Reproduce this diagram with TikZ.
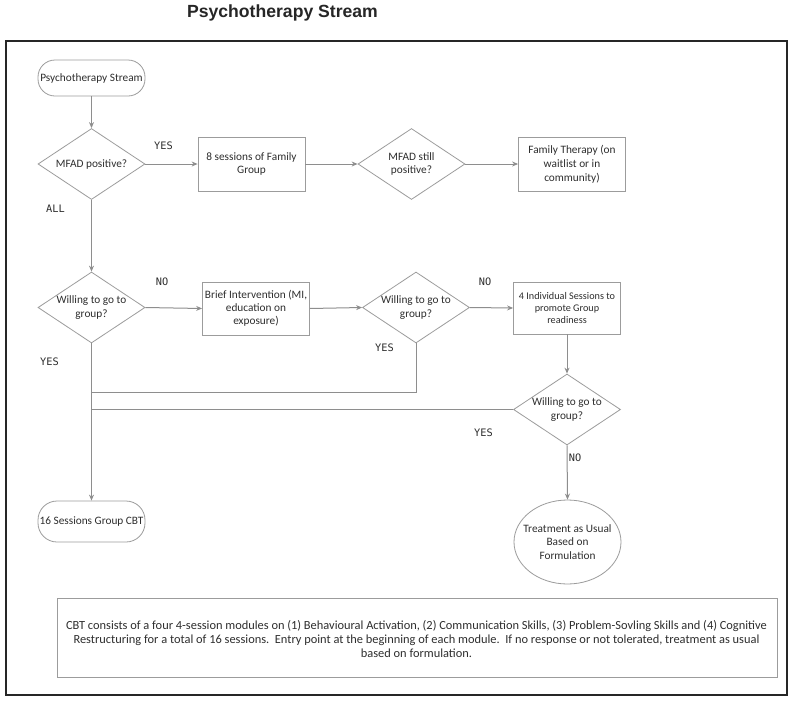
\documentclass[tikz,border=0pt]{standalone}
\usepackage{fontspec}
\setmainfont{Carlito}
\newfontfamily\titlefont{Liberation Sans}
\newfontfamily\lblfont{DejaVu Sans Mono}
\usetikzlibrary{shapes.geometric,arrows.meta}
\definecolor{txt}{HTML}{2E2E2E}
\definecolor{edge}{HTML}{8E8E8E}
\definecolor{bord}{HTML}{9C9C9C}
\begin{document}
\begin{tikzpicture}[x=1pt,y=-1pt,
  every node/.style={text=txt},
  nfont/.style={font=\fontsize{11.3}{13.8}\selectfont},
  term/.style={draw=bord,line width=0.8pt,rectangle,rounded corners=17pt,minimum width=107pt,inner sep=0pt,nfont,align=center},
  procbox/.style={draw=bord,line width=0.8pt,rectangle,minimum width=107pt,minimum height=54pt,inner sep=0pt,nfont,align=center},
  dia/.style={draw=bord,line width=0.8pt,diamond,minimum width=107pt,minimum height=71pt,inner sep=0pt},
  dtext/.style={nfont,align=center,inner sep=0pt,text=txt},
  lbl/.style={font=\lblfont\fontsize{10.3}{12}\selectfont,inner sep=0pt},
  arr/.style={draw=edge,line width=1pt,-{Stealth[length=6pt,width=5pt]}},
  ln/.style={draw=edge,line width=1pt}
]
\useasboundingbox (0,0) rectangle (796,702);
\fill[white] (0,0) rectangle (796,702);
\node[font=\titlefont\bfseries\fontsize{17.6}{20}\selectfont,text=black!85] (title) at (282.5,13) {Psychotherapy Stream};
\draw[line width=2.5pt,draw=black!85] (6,41) rectangle (787,695);

% row 1
\node[term,minimum height=36pt] (ps) at (91.5,78) {Psychotherapy Stream};
\node[dia,label={[dtext]center:MFAD positive?}] (d1) at (91.5,164) {};
\node[procbox] (b1) at (251.5,164) {8 sessions of Family\\Group};
\node[dia,label={[dtext]center:MFAD still\\positive?}] (d2) at (411.5,164) {};
\node[procbox] (ft) at (572,164) {Family Therapy (on\\waitlist or in\\community)};

% row 2
\node[dia,label={[dtext]center:Willing to go to\\group?}] (d3) at (91.5,307.5) {};
\node[procbox,minimum height=53pt,font=\fontsize{11.3}{12.8}\selectfont] (bi) at (256,308.5) {Brief Intervention (MI,\\education on\\exposure)};
\node[dia,label={[dtext]center:Willing to go to\\group?}] (d4) at (416,307.5) {};
\node[procbox,minimum height=52pt,font=\fontsize{10.2}{12}\selectfont] (is) at (567,308) {4 Individual Sessions to\\promote Group\\readiness};
\node[dia,label={[dtext]center:Willing to go to\\group?}] (d5) at (567,409.5) {};

% row 3
\node[term,minimum height=41pt,rounded corners=19pt] (cbt) at (91.5,521.5) {16 Sessions Group CBT};
\node[draw=bord,line width=0.8pt,ellipse,minimum width=107pt,minimum height=84pt,inner sep=0pt,
  label={[dtext]center:Treatment as Usual\\Based on\\Formulation}] (tau) at (567.5,542) {};

% note
\node[draw=bord,line width=0.8pt,minimum width=720pt,minimum height=79pt,inner sep=0pt] (note) at (417,637.5) {};
\node[font=\fontsize{12.4}{14}\selectfont,align=center,inner sep=0pt] (notetext) at (416.5,639) {CBT consists of a four 4-session modules on (1) Behavioural Activation, (2) Communication Skills, (3) Problem-Sovling Skills and (4) Cognitive\\Restructuring for a total of 16 sessions.\ \ Entry point at the beginning of each module.\ \ If no response or not tolerated, treatment as usual\\based on formulation.};

% junction coordinates
\coordinate (j1) at (91.5,392);
\coordinate (j2) at (91.5,409.5);

% connectors
\draw[arr] (ps.south) -- (d1.north);
\draw[arr] (d1.east) -- (b1.west);
\draw[arr] (b1.east) -- (d2.west);
\draw[arr] (d2.east) -- (ft.west);
\draw[arr] (d1.south) -- (d3.north);
\draw[arr] (d3.east) -- (bi.west);
\draw[arr] (bi.east) -- (d4.west);
\draw[arr] (d4.east) -- (is.west);
\draw[arr] (is.south) -- (d5.north);
\draw[arr] (d3.south) -- (cbt.north);
\draw[arr] (d5.south) -- (tau.north);
\draw[ln] (d4.south) |- (j1);
\draw[ln] (d5.west) -- (j2);

% labels
\node[lbl] (yes1) at (163.5,146) {YES};
\node[lbl] (all) at (55.5,209) {ALL};
\node[lbl] (no1) at (162,282) {NO};
\node[lbl] (yes2) at (49.5,362) {YES};
\node[lbl] (yes3) at (384.5,348) {YES};
\node[lbl] (no2) at (485,282) {NO};
\node[lbl] (yes4) at (483.5,433) {YES};
\node[lbl] (no3) at (575,458) {NO};
\end{tikzpicture}
\end{document}
